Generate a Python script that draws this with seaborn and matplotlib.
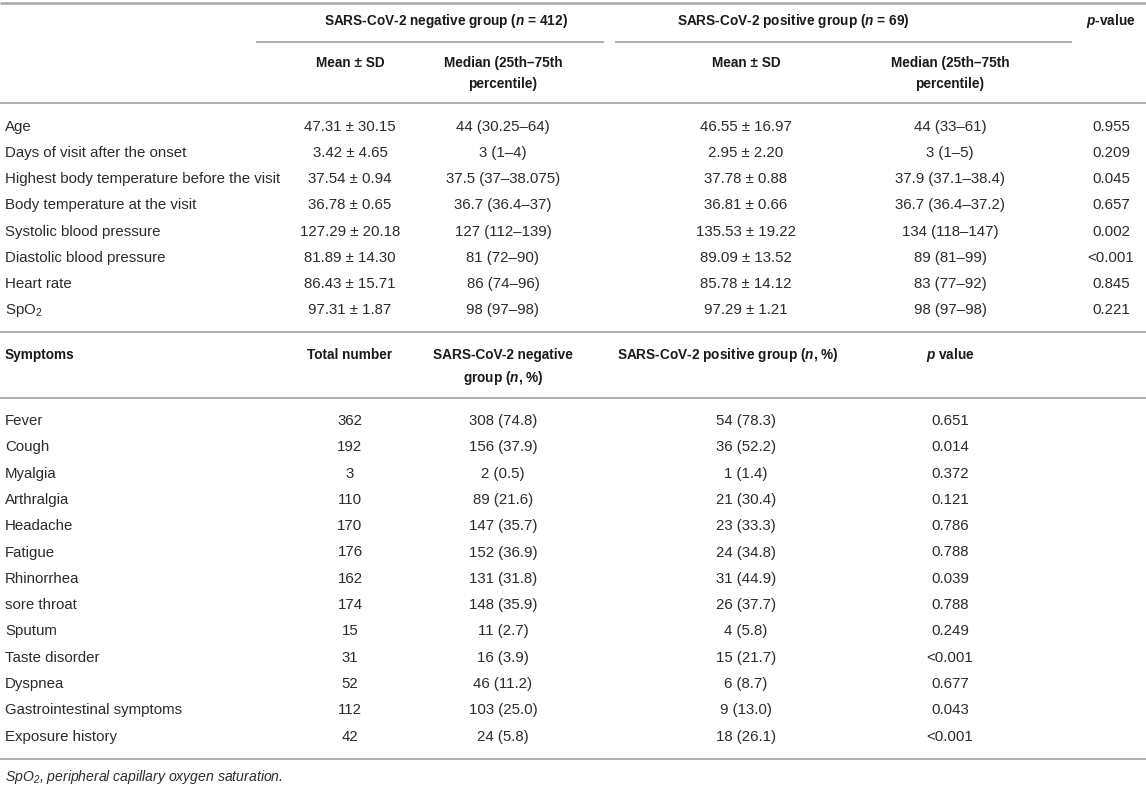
import matplotlib
matplotlib.use("Agg")
import matplotlib.pyplot as plt
import seaborn as sns

# ---- table contents ----
vitals = ["Age", "Days of visit after the onset", "Highest body temperature before the visit",
          "Body temperature at the visit", "Systolic blood pressure", "Diastolic blood pressure",
          "Heart rate", "SpO$_2$"]
neg_mean_sd = ["47.31 ± 30.15", "3.42 ± 4.65", "37.54 ± 0.94", "36.78 ± 0.65",
               "127.29 ± 20.18", "81.89 ± 14.30", "86.43 ± 15.71", "97.31 ± 1.87"]
neg_median = ["44 (30.25–64)", "3 (1–4)", "37.5 (37–38.075)", "36.7 (36.4–37)",
              "127 (112–139)", "81 (72–90)", "86 (74–96)", "98 (97–98)"]
pos_mean_sd = ["46.55 ± 16.97", "2.95 ± 2.20", "37.78 ± 0.88", "36.81 ± 0.66",
               "135.53 ± 19.22", "89.09 ± 13.52", "85.78 ± 14.12", "97.29 ± 1.21"]
pos_median = ["44 (33–61)", "3 (1–5)", "37.9 (37.1–38.4)", "36.7 (36.4–37.2)",
              "134 (118–147)", "89 (81–99)", "83 (77–92)", "98 (97–98)"]
vital_p = ["0.955", "0.209", "0.045", "0.657", "0.002", "<0.001", "0.845", "0.221"]

symptoms = ["Fever", "Cough", "Myalgia", "Arthralgia", "Headache", "Fatigue", "Rhinorrhea",
            "sore throat", "Sputum", "Taste disorder", "Dyspnea", "Gastrointestinal symptoms",
            "Exposure history"]
total_n = ["362", "192", "3", "110", "170", "176", "162", "174", "15", "31", "52", "112", "42"]
neg_n = ["308 (74.8)", "156 (37.9)", "2 (0.5)", "89 (21.6)", "147 (35.7)", "152 (36.9)",
         "131 (31.8)", "148 (35.9)", "11 (2.7)", "16 (3.9)", "46 (11.2)", "103 (25.0)", "24 (5.8)"]
pos_n = ["54 (78.3)", "36 (52.2)", "1 (1.4)", "21 (30.4)", "23 (33.3)", "24 (34.8)",
         "31 (44.9)", "26 (37.7)", "4 (5.8)", "15 (21.7)", "6 (8.7)", "9 (13.0)", "18 (26.1)"]
symptom_p = ["0.651", "0.014", "0.372", "0.121", "0.786", "0.788", "0.039", "0.788",
             "0.249", "<0.001", "0.677", "0.043", "<0.001"]

footnote = "SpO$_2$, peripheral capillary oxygen saturation."

sns.set_theme(style="white")
plt.rcParams["font.family"] = ["Liberation Sans", "DejaVu Sans"]
plt.rcParams["mathtext.fontset"] = "custom"
plt.rcParams["mathtext.default"] = "regular"
plt.rcParams["mathtext.it"] = "Liberation Sans:italic:bold"
plt.rcParams["mathtext.rm"] = "Liberation Sans"

W, H = 1146, 787
fig = plt.figure(figsize=(W / 100, H / 100), dpi=100)
ax = fig.add_axes([0, 0, 1, 1])
ax.set_xlim(0, W)
ax.set_ylim(H, 0)
ax.axis("off")

FS_HEAD = 9.8
FS_BODY = 10.8
BODY = "#2b2b2b"
HEAD = "#1a1a1a"
RULE = "#a8a8a8"

# column centres (pixels)
cols = [350, 503, 746, 950, 1111]
LEFT = 5


def rule(y, x0=0, x1=W, lw=1.3):
    ax.plot([x0, x1], [y, y], color=RULE, lw=lw, solid_capstyle="butt")


def cell(x, y, s, ha="center", bold=False, **kw):
    ax.text(x, y, s, ha=ha, va="center", fontsize=FS_HEAD if bold else FS_BODY,
            color=HEAD if bold else BODY, fontweight="bold" if bold else "normal", **kw)


# ---- first block: vital signs ----
rule(3, lw=1.8)
cell(446, 21, "SARS-CoV-2 negative group ($\\mathit{n}$ = 412)", bold=True)
cell(793, 21, "SARS-CoV-2 positive group ($\\mathit{n}$ = 69)", bold=True)
cell(cols[4], 21, "$\\mathit{p}$-value", bold=True)
rule(42, 256, 604)
rule(42, 615, 1072)
for c in (cols[0], cols[2]):
    cell(c, 63, "Mean ± SD", bold=True)
for c in (cols[1], cols[3]):
    cell(c, 63, "Median (25th–75th", bold=True)
    cell(c, 84, "percentile)", bold=True)
rule(103)

row_h = 26.15
for i, name in enumerate(vitals):
    y = 127 + i * row_h
    cell(LEFT, y, name, ha="left")
    cell(cols[0], y, neg_mean_sd[i])
    cell(cols[1], y, neg_median[i])
    cell(cols[2], y, pos_mean_sd[i])
    cell(cols[3], y, pos_median[i])
    cell(cols[4], y, vital_p[i])
rule(332)

# ---- second block: symptoms ----
cell(LEFT, 355, "Symptoms", ha="left", bold=True)
cell(cols[0], 355, "Total number", bold=True)
cell(cols[1], 355, "SARS-CoV-2 negative", bold=True)
cell(cols[1], 378, "group ($\\mathit{n}$, %)", bold=True)
cell(617, 355, "SARS-CoV-2 positive group ($\\mathit{n}$, %)", ha="left", bold=True)
cell(cols[3], 355, "$\\mathit{p}$ value", bold=True)
rule(398)

row_h2 = 26.3
for i, name in enumerate(symptoms):
    y = 421 + i * row_h2
    cell(LEFT, y, name, ha="left")
    cell(cols[0], y, total_n[i])
    cell(cols[1], y, neg_n[i])
    cell(cols[2], y, pos_n[i])
    cell(cols[3], y, symptom_p[i])
rule(759)

ax.text(LEFT, 777, footnote, ha="left", va="center", fontsize=10.1,
        color=BODY, style="italic")

fig.savefig("out.png", dpi=100)
